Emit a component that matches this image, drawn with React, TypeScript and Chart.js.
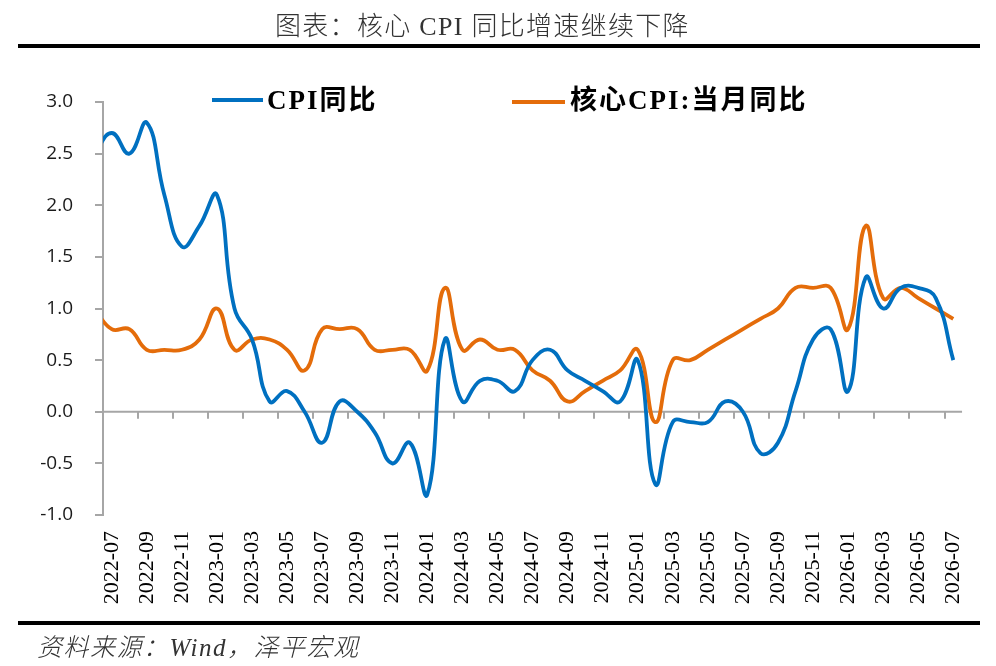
import React, { useEffect, useRef } from "react";
import { Chart, registerables } from "chart.js";

Chart.register(...registerables);

const months: string[] = [
  "2022-06", "2022-07", "2022-08", "2022-09", "2022-10", "2022-11", "2022-12",
  "2023-01", "2023-02", "2023-03", "2023-04", "2023-05", "2023-06",
  "2023-07", "2023-08", "2023-09", "2023-10", "2023-11", "2023-12",
  "2024-01", "2024-02", "2024-03", "2024-04", "2024-05", "2024-06",
  "2024-07", "2024-08", "2024-09", "2024-10", "2024-11", "2024-12",
  "2025-01", "2025-02", "2025-03", "2025-04", "2025-05", "2025-06",
  "2025-07", "2025-08", "2025-09", "2025-10", "2025-11", "2025-12",
  "2026-01", "2026-02", "2026-03", "2026-04", "2026-05", "2026-06", "2026-07",
];

const cpiYoY: number[] = [
  2.5, 2.7, 2.5, 2.8, 2.1, 1.6, 1.8,
  2.1, 1.0, 0.7, 0.1, 0.2, 0.0, -0.3, 0.1, 0.0, -0.2, -0.5, -0.3,
  -0.8, 0.7, 0.1, 0.3, 0.3, 0.2, 0.5, 0.6, 0.4, 0.3, 0.2, 0.1,
  0.5, -0.7, -0.1, -0.1, -0.1, 0.1, 0.0, -0.4, -0.3, 0.2, 0.7, 0.8,
  0.2, 1.3, 1.0, 1.2, 1.2, 1.1, 0.5,
];

const coreCpiYoY: number[] = [
  1.0, 0.8, 0.8, 0.6, 0.6, 0.6, 0.7,
  1.0, 0.6, 0.7, 0.7, 0.6, 0.4, 0.8, 0.8, 0.8, 0.6, 0.6, 0.6,
  0.4, 1.2, 0.6, 0.7, 0.6, 0.6, 0.4, 0.3, 0.1, 0.2, 0.3, 0.4,
  0.6, -0.1, 0.5, 0.5, 0.6, 0.7, 0.8, 0.9, 1.0, 1.2, 1.2, 1.2,
  0.8, 1.8, 1.1, 1.2, 1.1, 1.0, 0.9,
];

const firstShownMonth = "2022-07";
const yMin = -1.0;
const yMax = 3.0;
const yStep = 0.5;

const seriesNames = ["CPI同比", "核心CPI:当月同比"];
const BLUE = "#0070C0";
const ORANGE = "#E46C0A";
const AXIS_GREY = "#A6A6A6";

const zeroAxisPlugin = {
  id: "zeroAxis",
  beforeDatasetsDraw(chart: any) {
    const { ctx, chartArea, scales } = chart;
    const x = scales.x;
    const y = scales.y;
    const y0 = y.getPixelForValue(0);
    ctx.save();
    ctx.strokeStyle = AXIS_GREY;
    ctx.lineWidth = 2;
    ctx.beginPath();
    ctx.moveTo(chartArea.left, y0);
    ctx.lineTo(chartArea.right, y0);
    ctx.stroke();
    const half = (x.getPixelForValue(2) - x.getPixelForValue(1)) / 2;
    for (let i = 1; i < months.length; i += 2) {
      const px = Math.round(x.getPixelForValue(i) - half);
      ctx.beginPath();
      ctx.moveTo(px, y0);
      ctx.lineTo(px, y0 + 7);
      ctx.stroke();
    }
    ctx.restore();
  },
};

export default function App() {
  const canvasRef = useRef<HTMLCanvasElement | null>(null);

  useEffect(() => {
    if (!canvasRef.current) return;
    const chart = new Chart(canvasRef.current, {
      type: "line",
      data: {
        labels: months,
        datasets: [
          {
            label: seriesNames[0],
            data: cpiYoY,
            borderColor: BLUE,
            backgroundColor: BLUE,
            borderWidth: 3.8,
            pointRadius: 0,
            tension: 0.45,
            clip: 0,
          },
          {
            label: seriesNames[1],
            data: coreCpiYoY,
            borderColor: ORANGE,
            backgroundColor: ORANGE,
            borderWidth: 3.8,
            pointRadius: 0,
            tension: 0.45,
            clip: 0,
          },
        ],
      },
      options: {
        animation: false,
        responsive: false,
        devicePixelRatio: 1,
        layout: { padding: { top: 102, right: 31, left: 0, bottom: 0 } },
        plugins: {
          legend: { display: false },
          tooltip: { enabled: false },
          title: { display: false },
        },
        scales: {
          x: {
            type: "category",
            min: firstShownMonth,
            offset: true,
            grid: { display: false, drawTicks: false },
            border: { display: false },
            ticks: {
              autoSkip: false,
              maxRotation: 90,
              minRotation: 90,
              padding: 16,
              color: "#000",
              font: { family: "'Liberation Serif', 'Times New Roman', serif", size: 22 },
              callback: (value: any) => (Number(value) % 2 === 1 ? months[Number(value)] : ""),
            },
            afterFit: (scale: any) => {
              scale.height = 151;
            },
          },
          y: {
            min: yMin,
            max: yMax,
            grid: {
              drawOnChartArea: false,
              drawTicks: true,
              tickLength: 8,
              color: AXIS_GREY,
              lineWidth: 2,
            },
            border: { display: true, color: AXIS_GREY, width: 2 },
            ticks: {
              stepSize: yStep,
              padding: 22,
              color: "#1a1a1a",
              font: { family: "'Open Sans', sans-serif", size: 19 },
              callback: (value: any) => Number(value).toFixed(1),
            },
            afterFit: (scale: any) => {
              scale.width = 103;
            },
          },
        },
      },
      plugins: [zeroAxisPlugin],
    });
    return () => chart.destroy();
  }, []);

  const cjkSerif = "'Liberation Serif', 'Noto Sans CJK SC', serif";

  return (
    <div
      style={{
        position: "absolute",
        left: 0,
        top: 0,
        width: 996,
        height: 666,
        background: "#fff",
        overflow: "hidden",
      }}
    >
      <canvas ref={canvasRef} width={996} height={666} style={{ position: "absolute", left: 0, top: 0 }} />
      <div
        style={{
          position: "absolute",
          left: 275,
          top: 10,
          height: 34,
          lineHeight: "34px",
          whiteSpace: "nowrap",
          fontFamily: "'Liberation Serif', 'Noto Sans CJK SC', serif",
          fontWeight: 300,
          fontSize: 26,
          letterSpacing: 1.3,
          color: "#333",
        }}
      >
        图表：核心 CPI 同比增速继续下降
      </div>
      <div style={{ position: "absolute", left: 18, top: 44, width: 962, height: 4, background: "#000" }} />
      <div style={{ position: "absolute", left: 18, top: 621, width: 962, height: 4, background: "#000" }} />
      <div
        style={{
          position: "absolute",
          left: 37,
          top: 632,
          height: 32,
          lineHeight: "32px",
          whiteSpace: "nowrap",
          fontFamily: "'Liberation Serif', 'Noto Sans CJK SC', serif",
          fontStyle: "italic",
          fontWeight: 300,
          fontSize: 25,
          letterSpacing: 1.5,
          color: "#333",
        }}
      >
        资料来源：Wind，泽平宏观
      </div>
      <div style={{ position: "absolute", left: 212, top: 98, width: 51, height: 4, background: BLUE }} />
      <div
        style={{
          position: "absolute",
          left: 267,
          top: 83,
          height: 34,
          lineHeight: "34px",
          whiteSpace: "nowrap",
          fontFamily: cjkSerif,
          fontWeight: 700,
          fontSize: 27,
          letterSpacing: 2,
          color: "#000",
        }}
      >
        {seriesNames[0]}
      </div>
      <div style={{ position: "absolute", left: 512, top: 100, width: 53, height: 4, background: ORANGE }} />
      <div
        style={{
          position: "absolute",
          left: 570,
          top: 83,
          height: 34,
          lineHeight: "34px",
          whiteSpace: "nowrap",
          fontFamily: cjkSerif,
          fontWeight: 700,
          fontSize: 27,
          letterSpacing: 2,
          color: "#000",
        }}
      >
        {seriesNames[1]}
      </div>
    </div>
  );
}
